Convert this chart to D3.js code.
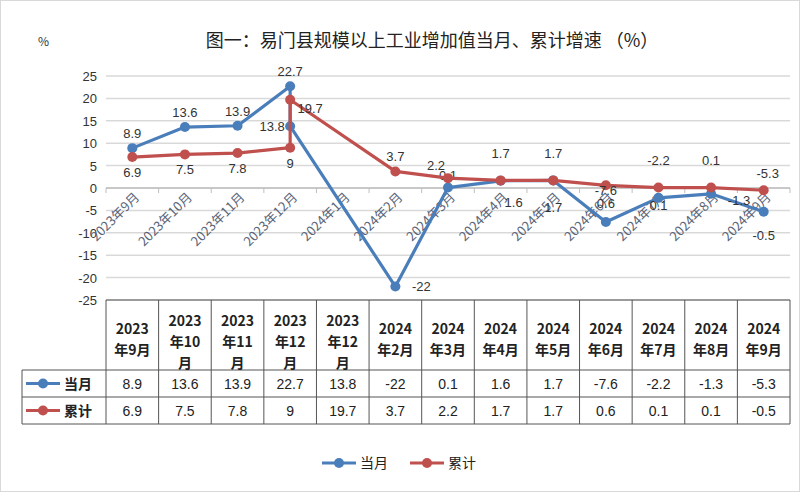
<!DOCTYPE html>
<html><head><meta charset="utf-8">
<script src="https://cdn.jsdelivr.net/npm/d3@7"></script>
<style>body{margin:0;background:#fff}</style>
</head><body>
<svg id="chart" width="800" height="492"></svg>
<script>
// the data
const axisCats = ["2023年9月","2023年10月","2023年11月","2023年12月","2024年1月","2024年2月","2024年3月",
  "2024年4月","2024年5月","2024年6月","2024年7月","2024年8月","2024年9月"];
// category each point is drawn at (the source chart puts the 5th point on 2023年12月)
const pointCats = ["2023年9月","2023年10月","2023年11月","2023年12月","2023年12月","2024年2月","2024年3月",
  "2024年4月","2024年5月","2024年6月","2024年7月","2024年8月","2024年9月"];
const tableCats = ["2023年9月","2023年10月","2023年11月","2023年12月","2023年12月","2024年2月","2024年3月",
  "2024年4月","2024年5月","2024年6月","2024年7月","2024年8月","2024年9月"];
const dangyue = [8.9, 13.6, 13.9, 22.7, 13.8, -22, 0.1, 1.6, 1.7, -7.6, -2.2, -1.3, -5.3];
const leiji   = [6.9, 7.5, 7.8, 9, 19.7, 3.7, 2.2, 1.7, 1.7, 0.6, 0.1, 0.1, -0.5];
// labels as they appear in the source (mis-ordered in the original chart)
const labelsBlue = ["8.9","13.6","13.9","22.7","13.8","-22","0.1","1.6","1.7","0.6","0.1","-1.3","-0.5"];
const labelsRed  = ["6.9","7.5","7.8","9","19.7","3.7","2.2","1.7","1.7","-7.6","-2.2","0.1","-5.3"];
const yTicks = [25,20,15,10,5,0,-5,-10,-15,-20,-25];

const blue = "#4a7ebb", red = "#c0504d";
const svg = d3.select("#chart");
svg.append("rect").attr("x",0.5).attr("y",0.5).attr("width",799).attr("height",491)
  .attr("fill","#fff").attr("stroke","#d9d9d9");

svg.append("text").attr("x",432).attr("y",47).attr("text-anchor","middle")
  .attr("font-family","Noto Sans CJK SC").attr("font-size",18).attr("fill","#222")
  .text("图一：易门县规模以上工业增加值当月、累计增速 （%）");
svg.append("text").attr("x",38).attr("y",46).attr("font-family","Noto Sans CJK SC")
  .attr("font-size",12).attr("fill","#333").text("%");

const x = d3.scaleBand().domain(axisCats).range([106, 790]);
const y = d3.scaleLinear().domain([-25, 25]).range([300, 76]);

// grid + y ticks
svg.append("g").selectAll("line").data(yTicks).join("line")
  .attr("x1",106).attr("x2",790).attr("y1",d=>y(d)).attr("y2",d=>y(d))
  .attr("stroke","#d9d9d9").attr("stroke-width",1.5);
svg.append("g").selectAll("text").data(yTicks).join("text")
  .attr("x",97).attr("y",d=>y(d)+5).attr("text-anchor","end")
  .attr("font-family","Liberation Sans").attr("font-size",13).attr("fill","#333").text(d=>d);

// category axis at 0
svg.append("line").attr("x1",106).attr("x2",790).attr("y1",y(0)).attr("y2",y(0))
  .attr("stroke","#bfbfbf").attr("stroke-width",1.5);
svg.append("g").selectAll("line").data(axisCats.concat(["end"])).join("line")
  .attr("x1",(d,i)=>106+i*x.step()).attr("x2",(d,i)=>106+i*x.step())
  .attr("y1",y(0)).attr("y2",y(0)+5).attr("stroke","#bfbfbf");
svg.append("g").selectAll("text").data(axisCats).join("text")
  .attr("transform",d=>`translate(${x(d)+x.bandwidth()/2+8},${y(0)+10}) rotate(-45)`)
  .attr("text-anchor","end").attr("font-family","Noto Sans CJK SC").attr("font-size",13)
  .attr("fill","#5a6478").text(d=>d);

const px = i => x(pointCats[i]) + x.bandwidth()/2;
function series(vals, color, labels, offs) {
  const line = d3.line().x((d,i)=>px(i)).y(d=>y(d));
  svg.append("path").datum(vals).attr("d",line).attr("fill","none")
    .attr("stroke",color).attr("stroke-width",3.2).attr("stroke-linejoin","round");
  svg.append("g").selectAll("circle").data(vals).join("circle")
    .attr("cx",(d,i)=>px(i)).attr("cy",d=>y(d)).attr("r",5).attr("fill",color);
  svg.append("g").selectAll("text").data(labels).join("text")
    .attr("x",(d,i)=>px(i)+offs[i][0]).attr("y",(d,i)=>y(vals[i])+offs[i][1])
    .attr("text-anchor","middle").attr("font-family","Liberation Sans").attr("font-size",13)
    .attr("fill","#333").text(d=>d);
}
const offBlue = [[0,-10],[0,-10],[0,-10],[0,-10],[-18,5],[26,4],[0,-8],[13,26],[0,32],[0,-14],[0,12],[28,11],[0,28]];
const offRed  = [[0,20],[0,20],[0,20],[0,20],[20,13],[0,-10],[-12,-8],[0,-22],[0,-22],[0,10],[0,-23],[0,-23],[4,-12]];
series(dangyue, blue, labelsBlue, offBlue);
series(leiji, red, labelsRed, offRed);

// data table
const tTop = 300, tHead = 370, tR1 = 397, tR2 = 424, tLeft = 22;
const colX = i => 106 + i * x.step();
const g = svg.append("g").attr("stroke","#555").attr("stroke-width",1);
g.append("line").attr("x1",106).attr("x2",790).attr("y1",tTop).attr("y2",tTop);
[tHead,tR1,tR2].forEach(v=>g.append("line").attr("x1",tLeft).attr("x2",790).attr("y1",v).attr("y2",v));
tableCats.concat(["end"]).forEach((d,i)=>g.append("line").attr("x1",colX(i)).attr("x2",colX(i))
  .attr("y1",tTop).attr("y2",tR2));
g.append("line").attr("x1",tLeft).attr("x2",tLeft).attr("y1",tHead).attr("y2",tR2);

tableCats.forEach((c,i)=>{
  const yr = c.slice(0,4), rest = c.slice(4);
  const lines = rest.length > 3 ? [yr, rest.slice(0,-1), "月"] : [yr, rest];
  const t = svg.append("text").attr("text-anchor","middle").attr("font-family","Noto Sans CJK SC")
    .attr("font-size",14).attr("font-weight","bold").attr("fill","#222");
  const y0 = lines.length === 3 ? 326 : 334;
  lines.forEach((l,k)=>t.append("tspan").attr("x",colX(i)+x.step()/2).attr("y",y0+k*21).text(l));
});
[[dangyue,tR1-8],[leiji,tR2-8]].forEach(([vals,yy])=>{
  svg.append("g").selectAll("text").data(vals).join("text")
    .attr("x",(d,i)=>colX(i)+x.step()/2).attr("y",yy).attr("text-anchor","middle")
    .attr("font-family","Liberation Sans").attr("font-size",14).attr("fill","#222").text(d=>d);
});
function key(xx, yy, color, name, bold) {
  svg.append("line").attr("x1",xx).attr("x2",xx+34).attr("y1",yy).attr("y2",yy)
    .attr("stroke",color).attr("stroke-width",3.2);
  svg.append("circle").attr("cx",xx+17).attr("cy",yy).attr("r",5).attr("fill",color);
  svg.append("text").attr("x",xx+38).attr("y",yy+5).attr("font-family","Noto Sans CJK SC")
    .attr("font-size",14).attr("font-weight",bold?"bold":"normal").attr("fill","#222").text(name);
}
key(26, (tHead+tR1)/2, blue, "当月", true);
key(26, (tR1+tR2)/2, red, "累计", true);
key(322, 463, blue, "当月", false);
key(410, 463, red, "累计", false);
</script>
</body></html>
